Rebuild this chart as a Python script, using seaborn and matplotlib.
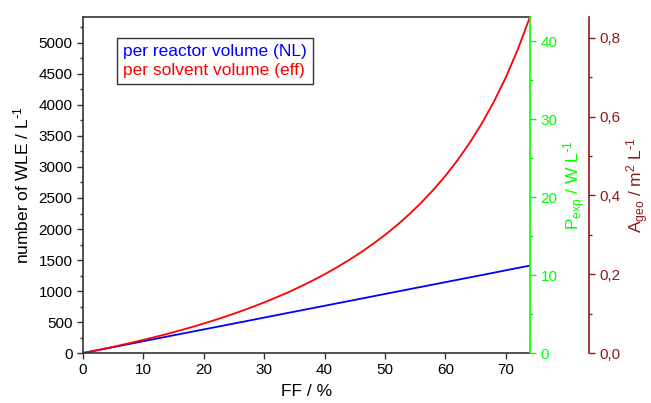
import numpy as np
import pandas as pd
import matplotlib
matplotlib.use("Agg")
import matplotlib.pyplot as plt
import seaborn as sns
from matplotlib.ticker import MultipleLocator, FuncFormatter

# Data

ff = [0, 2, 4, 6, 8, 10, 12, 14, 16, 18, 20, 22, 24, 26, 28, 30, 32, 34, 36,
      38, 40, 42, 44, 46, 48, 50, 52, 54, 56, 58, 60, 62, 64, 66, 68, 70, 72, 74]

wle_reactor = [0, 38, 76, 114, 152, 191, 229, 267, 305, 343, 381, 419, 457, 495,
               533, 572, 610, 648, 686, 724, 762, 800, 838, 876, 914, 953, 991,
               1029, 1067, 1105, 1143, 1181, 1219, 1257, 1295, 1334, 1372, 1410]

wle_solvent = [0, 39, 79, 122, 166, 212, 260, 310, 363, 418, 476, 537, 602, 669,
               741, 816, 897, 981, 1072, 1168, 1270, 1380, 1497, 1623, 1759, 1905,
               2064, 2236, 2425, 2631, 2858, 3108, 3387, 3698, 4048, 4445, 4899, 5422]

series_names = ["per reactor volume (NL)", "per solvent volume (eff)"]
series_colors = ["#0000FF", "#FF0000"]

df = pd.DataFrame({
    "FF": ff * 2,
    "WLE": wle_reactor + wle_solvent,
    "series": [series_names[0]] * len(ff) + [series_names[1]] * len(ff),
})

# Style

sns.set_style("ticks")
plt.rcParams["font.family"] = ["Liberation Sans", "DejaVu Sans"]
plt.rcParams["mathtext.default"] = "regular"

axis_gray = "#333333"
green = "#00FF00"
darkred = "#8B1A1A"
tick_fs = 11
label_fs = 12.5

fig = plt.figure(figsize=(6.51, 4.03), dpi=100)
ax = fig.add_axes([0.1275, 0.124, 0.6866, 0.834])

sns.lineplot(
    data=df, x="FF", y="WLE", hue="series",
    palette=series_colors, linewidth=1.3, legend=False, ax=ax
)

ax.set_xlim(0, 74)
ax.set_ylim(0, 5420)
ax.xaxis.set_major_locator(MultipleLocator(10))
ax.yaxis.set_major_locator(MultipleLocator(500))
ax.yaxis.set_minor_locator(MultipleLocator(250))
ax.set_xlabel("FF / %", fontsize=label_fs, color="black", labelpad=5)
ax.set_ylabel(r"number of WLE / L$^{\text{-}1}$", fontsize=label_fs, color="black", labelpad=5)
ax.tick_params(axis="both", which="major", direction="out", length=4, width=1,
               labelsize=tick_fs, colors=axis_gray, labelcolor="black")
ax.tick_params(axis="y", which="minor", direction="out", length=2.5, width=1,
               colors=axis_gray)
for side in ["left", "bottom", "top"]:
    ax.spines[side].set_color(axis_gray)
    ax.spines[side].set_linewidth(1.2)
ax.spines["right"].set_visible(False)

# Green axis: P_exp
ax2 = ax.twinx()
ax2.set_ylim(0, 43.1)
ax2.yaxis.set_major_locator(MultipleLocator(10))
ax2.yaxis.set_minor_locator(MultipleLocator(5))
ax2.tick_params(axis="y", which="major", direction="out", length=4, width=1,
                labelsize=tick_fs, colors=green)
ax2.tick_params(axis="y", which="minor", direction="out", length=2.5, width=1,
                colors=green)
ax2.spines["right"].set_color(green)
ax2.spines["right"].set_linewidth(1.2)
for side in ["left", "top", "bottom"]:
    ax2.spines[side].set_visible(False)
ax2.set_ylabel(r"P$_{exp}$ / W L$^{\text{-}1}$", fontsize=label_fs, color=green, labelpad=3)

# Dark red axis: A_geo
ax3 = ax.twinx()
ax3.spines["right"].set_position(("axes", 1.132))
ax3.set_ylim(0, 0.853)
ax3.yaxis.set_major_locator(MultipleLocator(0.2))
ax3.yaxis.set_minor_locator(MultipleLocator(0.1))
ax3.yaxis.set_major_formatter(FuncFormatter(lambda v, p: f"{v:.1f}".replace(".", ",")))
ax3.tick_params(axis="y", which="major", direction="out", length=4, width=1,
                labelsize=tick_fs, colors=darkred)
ax3.tick_params(axis="y", which="minor", direction="out", length=2.5, width=1,
                colors=darkred)
ax3.spines["right"].set_color(darkred)
ax3.spines["right"].set_linewidth(1.2)
for side in ["left", "top", "bottom"]:
    ax3.spines[side].set_visible(False)
ax3.set_ylabel(r"A$_{geo}$ / m$^{2}$ L$^{\text{-}1}$", fontsize=label_fs, color=darkred, labelpad=3)

# Legend box with coloured text only
leg = ax.legend(
    handles=[plt.Line2D([], [], linestyle="none") for _ in series_names],
    labels=series_names, loc="upper left", bbox_to_anchor=(0.076, 0.9375),
    borderaxespad=0, handlelength=0, handletextpad=0, fontsize=12.5,
    frameon=True, fancybox=False, edgecolor="black", borderpad=0.35,
    labelspacing=0.2
)
leg.get_frame().set_linewidth(1.0)
for text, color in zip(leg.get_texts(), series_colors):
    text.set_color(color)

fig.savefig("out.png", dpi=100)
